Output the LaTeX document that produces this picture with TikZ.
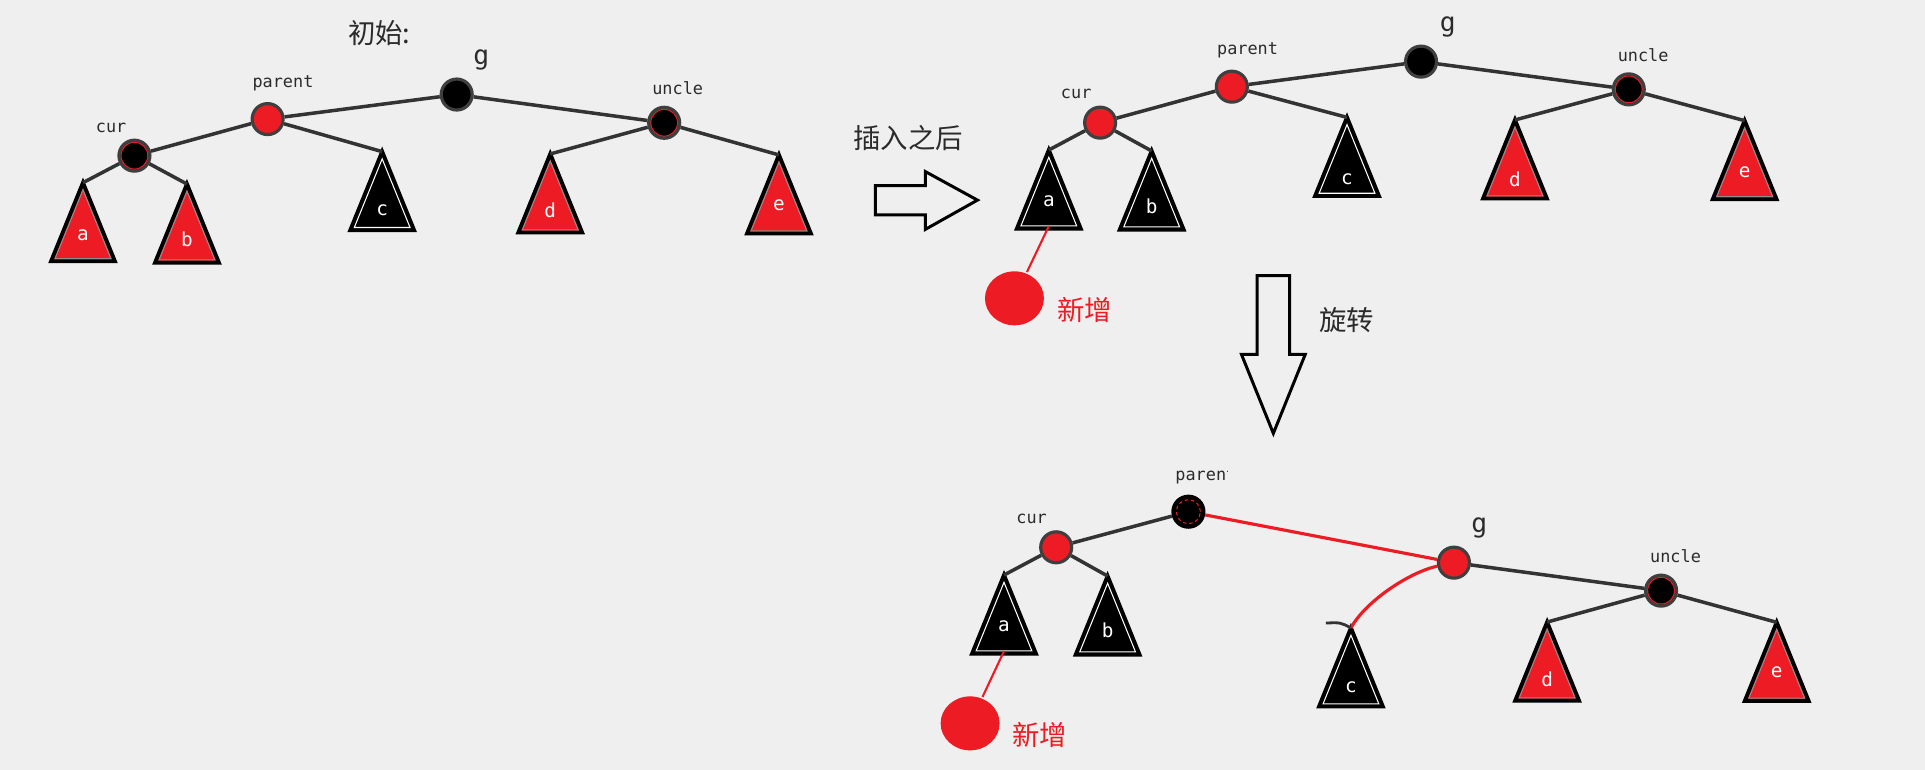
\documentclass[tikz,border=0pt]{standalone}
\usepackage{fontspec}
\setmonofont{DejaVu Sans Mono}
\newfontfamily\cjk{Noto Sans CJK SC}
\usetikzlibrary{shapes.geometric}
\definecolor{cred}{HTML}{ED1C24}
\definecolor{cbg}{HTML}{EFEFEF}
\definecolor{cedge}{HTML}{333333}
\definecolor{cring}{HTML}{3F3F3F}
\definecolor{ctext}{HTML}{2B2B2B}
\tikzset{
  every picture/.style={line width=1pt},
  link/.style={draw=cedge, line width=1pt},
  rbnode/.style={circle, draw=cring, line width=0.9pt, minimum size=0.31cm, inner sep=0pt},
  rednode/.style={rbnode, fill=cred},
  blacknode/.style={rbnode, fill=black},
  redring/.style={path picture={\draw[cred, line width=0.35pt] (path picture bounding box.center) circle[radius=0.135cm];}},
  tag/.style={font=\ttfamily\fontsize{4.8}{5}\selectfont, text=ctext, inner sep=0pt},
  bigtag/.style={font=\ttfamily\fontsize{7.5}{8}\selectfont, text=ctext, inner sep=0pt},
  leaf/.style={font=\ttfamily\fontsize{5.5}{6}\selectfont, text=white, inner sep=0pt},
  tri/.style={draw=black, line width=1.1pt, line join=miter},
  in-black/.style={draw=white, line width=0.3pt},
  in-cred/.style={draw=black!45, line width=0.3pt},
  newnode/.style={ellipse, fill=cred, minimum width=0.59cm, minimum height=0.54cm, inner sep=0pt},
  newlink/.style={draw=cred, line width=0.6pt},
  redlink/.style={draw=cred, line width=0.9pt},
  cjktext/.style={font=\cjk\fontsize{7.8}{9}\selectfont, text=ctext, inner sep=0pt},
  bigarrow/.style={draw=black, line width=0.85pt, line join=miter},
}
\newcommand{\subtree}[6]{%
  \coordinate (#1) at (#2,#3);
  \filldraw[tri, fill=#4] (#1) -- ++(-26,64) -- ++(52,0) -- cycle;
  \draw[in-#4] (#1) ++(0,5.9) -- ++(-22.7,55.9) -- ++(45.4,0) -- cycle;
  \coordinate (#1-b) at (#2,#3+62);
  \path (#1) ++(0,#6) node[leaf] (#1-l) {#5};
}

\begin{document}
\begin{tikzpicture}[x=0.012277cm, y=-0.012277cm]
  \path[use as bounding box, fill=cbg] (0,0) rectangle (1568,627);

  \node[cjktext] (t1) at (309,27) {初始:};
  \node[blacknode] (g1) at (372,77) {};
  \node[rednode] (par1) at (218,97) {};
  \node[blacknode, redring] (cur1) at (109.5,126.8) {};
  \node[blacknode, redring] (unc1) at (541,100) {};
  \node[bigtag] (g1-lab) at (392,49) {g};
  \node[tag] (par1-lab) at (230.5,68) {parent};
  \node[tag] (cur1-lab) at (90.5,104) {cur};
  \node[tag] (unc1-lab) at (552,72) {uncle};
  \subtree{a1}{67.6}{148.8}{cred}{a}{42.6}
  \subtree{b1}{152.3}{149.9}{cred}{b}{45}
  \subtree{c1}{311.3}{123.5}{black}{c}{48}
  \subtree{d1}{448.2}{125.4}{cred}{d}{46}
  \subtree{e1}{634.5}{126.2}{cred}{e}{41}
  \draw[link] (g1) -- (par1);
  \draw[link] (g1) -- (unc1);
  \draw[link] (par1) -- (cur1);
  \draw[link] (par1) -- (c1);
  \draw[link] (cur1) -- (a1);
  \draw[link] (cur1) -- (b1);
  \draw[link] (unc1) -- (d1);
  \draw[link] (unc1) -- (e1);

  \node[cjktext] (t2) at (739.8,112.7) {插入之后};
  \draw[bigarrow] (713,151.2) -- (753.8,151.2) -- (753.8,139.8) -- (796.2,163) -- (753.8,186.8) -- (753.8,175.1) -- (713,175.1) -- cycle;

  \node[blacknode] (g2) at (1157.5,50.2) {};
  \node[rednode] (par2) at (1003.4,70.6) {};
  \node[rednode] (cur2) at (896.1,99.9) {};
  \node[blacknode, redring] (unc2) at (1326.7,72.8) {};
  \node[bigtag] (g2-lab) at (1179.3,22.3) {g};
  \node[tag] (par2-lab) at (1016.2,41.3) {parent};
  \node[tag] (cur2-lab) at (876.6,76.8) {cur};
  \node[tag] (unc2-lab) at (1338.4,44.8) {uncle};
  \subtree{a2}{854.3}{122.2}{black}{a}{42}
  \subtree{b2}{938.1}{123}{black}{b}{45.3}
  \subtree{c2}{1097.2}{95.6}{black}{c}{50}
  \subtree{d2}{1234}{97.7}{cred}{d}{48}
  \subtree{e2}{1421.1}{98.3}{cred}{e}{42}
  \draw[link] (g2) -- (par2);
  \draw[link] (g2) -- (unc2);
  \draw[link] (par2) -- (cur2);
  \draw[link] (par2) -- (c2);
  \draw[link] (cur2) -- (a2);
  \draw[link] (cur2) -- (b2);
  \draw[link] (unc2) -- (d2);
  \draw[link] (unc2) -- (e2);
  \node[newnode] (new2) at (826.3,243) {};
  \node[cjktext, text=cred] (new2-lab) at (883.3,252.5) {新增};
  \draw[newlink] (a2-b) -- (new2);

  \node[cjktext] (t3) at (1097,261) {旋转};
  \draw[bigarrow] (1024,224.5) -- (1050.4,224.5) -- (1050.4,288.6) -- (1063.2,288.6) -- (1037.2,353) -- (1011.2,288.6) -- (1024,288.6) -- cycle;

  \node[blacknode, draw=black] (par3) at (968,416.8) {};
  \draw[cred, line width=0.3pt, dash pattern=on 1pt off 0.8pt] (par3.center) circle[radius=0.12cm];
  \node[rednode] (cur3) at (860.3,445.8) {};
  \node[rednode] (g3) at (1184.3,458.3) {};
  \node[blacknode, redring] (unc3) at (1353,481.1) {};
  \begin{scope}
    \clip (940,370) rectangle (999.5,400);
    \node[tag, anchor=west] (par3-lab) at (956,387.7) {parent};
  \end{scope}
  \node[tag] (cur3-lab) at (840.3,423) {cur};
  \node[bigtag] (g3-lab) at (1205,430) {g};
  \node[tag] (unc3-lab) at (1364.8,452.9) {uncle};
  \subtree{a3}{817.8}{468.4}{black}{a}{42}
  \subtree{b3}{902.2}{469.2}{black}{b}{44.5}
  \subtree{c3}{1100.4}{511.5}{black}{c}{48.5}
  \subtree{d3}{1260.2}{506.7}{cred}{d}{46.5}
  \subtree{e3}{1447.2}{506.9}{cred}{e}{41}
  \draw[link] (par3) -- (cur3);
  \draw[link] (cur3) -- (a3);
  \draw[link] (cur3) -- (b3);
  \draw[link] (g3) -- (unc3);
  \draw[link] (unc3) -- (d3);
  \draw[link] (unc3) -- (e3);
  \draw[redlink] (par3) -- (g3);
  \draw[redlink] (g3) .. controls (1148,466) and (1112,490) .. (c3);
  \coordinate (stub) at (1080,507.5);
  \draw[link, line width=0.8pt] (stub) .. controls (1092,507) .. (c3);
  \node[newnode] (new3) at (790.2,589.2) {};
  \node[cjktext, text=cred] (new3-lab) at (846.9,598.7) {新增};
  \draw[newlink] (a3-b) -- (new3);
\end{tikzpicture}
\end{document}
